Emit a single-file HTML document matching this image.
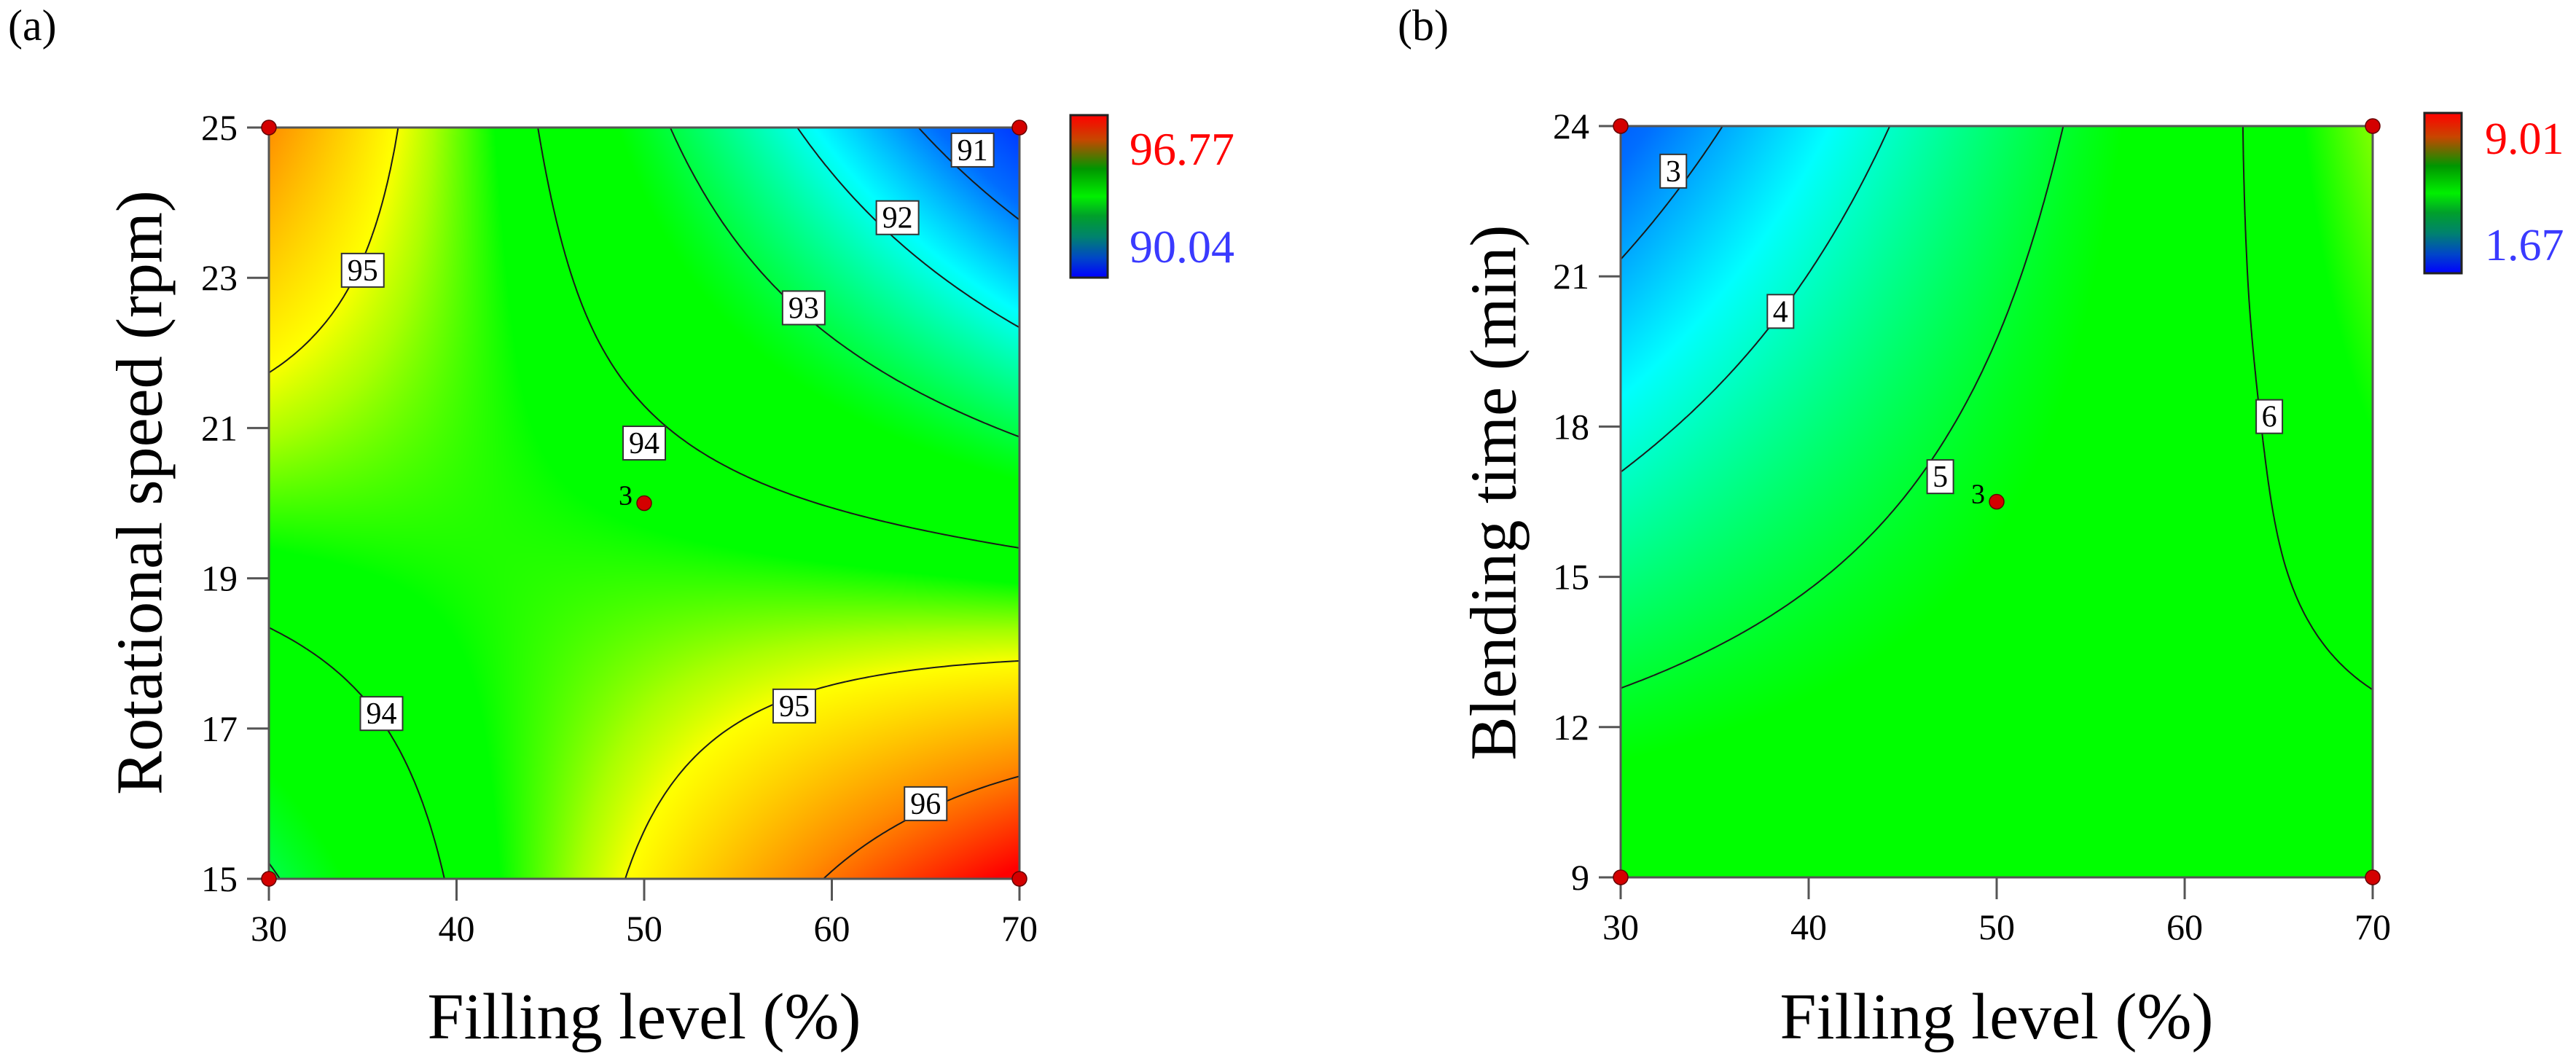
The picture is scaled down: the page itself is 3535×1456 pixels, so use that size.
<!DOCTYPE html>
<html>
<head>
<meta charset="utf-8">
<style>
  html,body{margin:0;padding:0;background:#fff;}
  body{width:3535px;height:1456px;position:relative;overflow:hidden;font-family:"Liberation Serif","Times New Roman",serif;}
  canvas{position:absolute;}
  #overlay{position:absolute;left:0;top:0;font-family:"Liberation Serif","Times New Roman",serif;}
  #overlay text{font-family:"Liberation Serif","Times New Roman",serif;}
</style>
</head>
<body>
<canvas id="heatA"></canvas>
<canvas id="heatB"></canvas>
<svg id="overlay" width="3535" height="1456" xmlns="http://www.w3.org/2000/svg" font-family="Liberation Serif, serif">
  <defs>
    <linearGradient id="cbGrad" x1="0" y1="1" x2="0" y2="0">
      <stop offset="0" stop-color="#0000ff"/>
      <stop offset="0.12" stop-color="#0046c8"/>
      <stop offset="0.25" stop-color="#00826e"/>
      <stop offset="0.38" stop-color="#00a02a"/>
      <stop offset="0.5" stop-color="#00f000"/>
      <stop offset="0.67" stop-color="#009600"/>
      <stop offset="0.85" stop-color="#c84600"/>
      <stop offset="1" stop-color="#ff0000"/>
    </linearGradient>
  </defs>
  <text x="11" y="55" font-size="60">(a)</text>
  <text x="1918" y="55" font-size="60">(b)</text>

  <rect x="1469" y="158" width="51" height="223" fill="url(#cbGrad)" stroke="#222" stroke-width="3"/>
  <text x="1550" y="226" font-size="64" fill="#ff0000">96.77</text>
  <text x="1550" y="360" font-size="64" fill="#3a3aff">90.04</text>

  <rect x="3327" y="155" width="51" height="220" fill="url(#cbGrad)" stroke="#222" stroke-width="3"/>
  <text x="3410" y="211" font-size="62" fill="#ff0000">9.01</text>
  <text x="3410" y="357" font-size="62" fill="#3a3aff">1.67</text>

  <text x="192" y="676" font-size="90" text-anchor="middle" dominant-baseline="central" transform="rotate(-90 192 676)">Rotational speed (rpm)</text>
  <text x="884" y="1425" font-size="90" text-anchor="middle">Filling level (%)</text>
  <text x="2050" y="676" font-size="90" text-anchor="middle" dominant-baseline="central" transform="rotate(-90 2050 676)">Blending time (min)</text>
  <text x="2740" y="1425" font-size="90" text-anchor="middle">Filling level (%)</text>

  <g id="plotA"></g>
  <g id="plotB"></g>
</svg>
<script>
// ---------- Data: panel (a) ----------
const xTicksA = [30, 40, 50, 60, 70];
const yTicksA = [15, 17, 19, 21, 23, 25];
// response values at (xTicksA[i], yTicksA[j]); rows = y from 15 to 25
const gridA = [
  [92.93, 94.07, 95.10, 96.04, 96.87],
  [93.58, 94.23, 94.78, 95.24, 95.59],
  [94.20, 94.37, 94.44, 94.40, 94.27],
  [94.79, 94.47, 94.06, 93.54, 92.92],
  [95.35, 94.55, 93.64, 92.64, 91.54],
  [95.87, 94.59, 93.20, 91.72, 90.13]
];
const rangeA = [90.04, 96.77];
const levelsA = [91, 92, 93, 94, 95, 96];
const labelXA = [67.5, 63.5, 58.5, 50, 35, 36, 58, 65];
const labelYA = [24.7, 23.8, 22.6, 20.8, 23.1, 17.2, 17.3, 16.0];
const labelTextA = ["91", "92", "93", "94", "95", "94", "95", "96"];
const pointXA = [30, 70, 30, 70, 50];
const pointYA = [25, 25, 15, 15, 20];

// ---------- Data: panel (b) ----------
const xTicksB = [30, 40, 50, 60, 70];
const yTicksB = [9, 12, 15, 18, 21, 24];
const gridB = [
  [5.86, 5.90, 5.89, 5.84, 5.75],
  [5.18, 5.43, 5.65, 5.82, 5.95],
  [4.48, 4.96, 5.40, 5.80, 6.15],
  [3.79, 4.49, 5.15, 5.76, 6.34],
  [3.08, 4.01, 4.89, 5.73, 6.52],
  [2.37, 3.52, 4.62, 5.68, 6.70]
];
const rangeB = [1.67, 9.01];
const levelsB = [3, 4, 5, 6];
const labelXB = [32.8, 38.5, 47, 64.5];
const labelYB = [23.1, 20.3, 17.0, 18.2];
const labelTextB = ["3", "4", "5", "6"];
const pointXB = [30, 70, 30, 70, 50];
const pointYB = [24, 24, 9, 9, 16.5];

// colormap stops (t, r, g, b)
const cmapT = [0, 0.12, 0.27, 0.47, 0.5, 0.635, 0.70, 0.74, 0.87, 1];
const cmapR = [0, 0, 0, 0, 0, 0, 170, 255, 255, 255];
const cmapG = [50, 110, 255, 255, 255, 255, 255, 255, 140, 0];
const cmapB = [255, 255, 255, 30, 0, 0, 0, 0, 0, 0];

const SVGNS = "http://www.w3.org/2000/svg";

function colorFor(t){
  if (t <= 0) return [cmapR[0], cmapG[0], cmapB[0]];
  if (t >= 1) { const n = cmapT.length - 1; return [cmapR[n], cmapG[n], cmapB[n]]; }
  for (let k = 0; k < cmapT.length - 1; k++) {
    if (t >= cmapT[k] && t <= cmapT[k+1]) {
      const f = (t - cmapT[k]) / (cmapT[k+1] - cmapT[k]);
      return [cmapR[k] + f*(cmapR[k+1]-cmapR[k]), cmapG[k] + f*(cmapG[k+1]-cmapG[k]), cmapB[k] + f*(cmapB[k+1]-cmapB[k])];
    }
  }
  return [0,255,0];
}

function makeInterp(grid){
  const ny = grid.length, nx = grid[0].length;
  function g(i, j){
    if (i < 0) return 3*g(0,j) - 3*g(1,j) + g(2,j);
    if (i > nx-1) return 3*g(nx-1,j) - 3*g(nx-2,j) + g(nx-3,j);
    if (j < 0) return 3*g(i,0) - 3*g(i,1) + g(i,2);
    if (j > ny-1) return 3*g(i,ny-1) - 3*g(i,ny-2) + g(i,ny-3);
    return grid[j][i];
  }
  function cr(p0,p1,p2,p3,t){
    return 0.5*((2*p1) + (-p0+p2)*t + (2*p0-5*p1+4*p2-p3)*t*t + (-p0+3*p1-3*p2+p3)*t*t*t);
  }
  return function(u, v){
    let i = Math.min(Math.floor(u), nx-2), j = Math.min(Math.floor(v), ny-2);
    const tu = u - i, tv = v - j;
    const rows = [];
    for (let dj = -1; dj <= 2; dj++) {
      rows.push(cr(g(i-1,j+dj), g(i,j+dj), g(i+1,j+dj), g(i+2,j+dj), tu));
    }
    return cr(rows[0], rows[1], rows[2], rows[3], tv);
  };
}

function buildPanel(cfg){
  const {canvasId, groupId, L, T, W, H, xTicks, yTicks, grid, range, levels, lx, ly, lt, px, py, tag} = cfg;
  const xmin = xTicks[0], xmax = xTicks[xTicks.length-1];
  const ymin = yTicks[0], ymax = yTicks[yTicks.length-1];
  const sx = x => L + (x - xmin) / (xmax - xmin) * W;
  const sy = y => T + H - (y - ymin) / (ymax - ymin) * H;
  const f = makeInterp(grid);
  const nx = xTicks.length - 1, ny = yTicks.length - 1;

  const cv = document.getElementById(canvasId);
  cv.width = W; cv.height = H;
  cv.style.left = L + "px"; cv.style.top = T + "px";
  const ctx = cv.getContext("2d");
  const img = ctx.createImageData(W, H);
  for (let r = 0; r < H; r++) {
    const v = (H - 1 - r) / (H - 1) * ny;
    for (let c = 0; c < W; c++) {
      const u = c / (W - 1) * nx;
      const val = f(u, v);
      const col = colorFor((val - range[0]) / (range[1] - range[0]));
      const o = (r*W + c) * 4;
      img.data[o] = col[0]; img.data[o+1] = col[1]; img.data[o+2] = col[2]; img.data[o+3] = 255;
    }
  }
  ctx.putImageData(img, 0, 0);

  const grp = document.getElementById(groupId);

  const N = 160;
  const vals = [];
  for (let j = 0; j <= N; j++) {
    const row = [];
    for (let i = 0; i <= N; i++) row.push(f(i/N*nx, j/N*ny));
    vals.push(row);
  }
  const X = i => L + i/N*W;
  const Y = j => T + H - j/N*H;
  levels.forEach((lev) => {
    let d = "";
    for (let j = 0; j < N; j++) for (let i = 0; i < N; i++) {
      const a = vals[j][i], b = vals[j][i+1], c = vals[j+1][i+1], e = vals[j+1][i];
      const pts = [];
      const edge = (v1, v2, x1, y1, x2, y2) => {
        if ((v1 < lev) !== (v2 < lev)) {
          const t = (lev - v1) / (v2 - v1);
          pts.push([x1 + t*(x2-x1), y1 + t*(y2-y1)]);
        }
      };
      edge(a, b, X(i), Y(j), X(i+1), Y(j));
      edge(b, c, X(i+1), Y(j), X(i+1), Y(j+1));
      edge(c, e, X(i+1), Y(j+1), X(i), Y(j+1));
      edge(e, a, X(i), Y(j+1), X(i), Y(j));
      for (let k = 0; k + 1 < pts.length; k += 2) {
        d += "M" + pts[k][0].toFixed(1) + " " + pts[k][1].toFixed(1) + "L" + pts[k+1][0].toFixed(1) + " " + pts[k+1][1].toFixed(1);
      }
    }
    const p = document.createElementNS(SVGNS, "path");
    p.setAttribute("d", d);
    p.setAttribute("fill", "none");
    p.setAttribute("stroke", "#1a1a1a");
    p.setAttribute("stroke-width", "2");
    
    
    grp.appendChild(p);
  });

  const fr = document.createElementNS(SVGNS, "rect");
  fr.setAttribute("x", L); fr.setAttribute("y", T); fr.setAttribute("width", W); fr.setAttribute("height", H);
  fr.setAttribute("fill", "none"); fr.setAttribute("stroke", "#555"); fr.setAttribute("stroke-width", "3");
  
  
  grp.appendChild(fr);

  xTicks.forEach(t => {
    const ln = document.createElementNS(SVGNS, "line");
    ln.setAttribute("x1", sx(t)); ln.setAttribute("x2", sx(t));
    ln.setAttribute("y1", T + H); ln.setAttribute("y2", T + H + 30);
    ln.setAttribute("stroke", "#555"); ln.setAttribute("stroke-width", "3");
    
    
    grp.appendChild(ln);
    const tx = document.createElementNS(SVGNS, "text");
    tx.setAttribute("x", sx(t)); tx.setAttribute("y", T + H + 85);
    tx.setAttribute("font-size", "50"); tx.setAttribute("text-anchor", "middle");
    tx.textContent = t;
    
    
    grp.appendChild(tx);
  });
  yTicks.forEach(t => {
    const ln = document.createElementNS(SVGNS, "line");
    ln.setAttribute("x1", L - 30); ln.setAttribute("x2", L);
    ln.setAttribute("y1", sy(t)); ln.setAttribute("y2", sy(t));
    ln.setAttribute("stroke", "#555"); ln.setAttribute("stroke-width", "3");
    
    
    grp.appendChild(ln);
    const tx = document.createElementNS(SVGNS, "text");
    tx.setAttribute("x", L - 43); tx.setAttribute("y", sy(t) + 17);
    tx.setAttribute("font-size", "50"); tx.setAttribute("text-anchor", "end");
    tx.textContent = t;
    
    
    grp.appendChild(tx);
  });

  lt.forEach((s, k) => {
    const cx = sx(lx[k]), cy = sy(ly[k]);
    const w = s.length * 22 + 14, h = 46;
    const r = document.createElementNS(SVGNS, "rect");
    r.setAttribute("x", cx - w/2); r.setAttribute("y", cy - h/2);
    r.setAttribute("width", w); r.setAttribute("height", h);
    r.setAttribute("fill", "#fff"); r.setAttribute("stroke", "#333"); r.setAttribute("stroke-width", "2");
    
    
    grp.appendChild(r);
    const tx = document.createElementNS(SVGNS, "text");
    tx.setAttribute("x", cx); tx.setAttribute("y", cy + 14);
    tx.setAttribute("font-size", "42"); tx.setAttribute("text-anchor", "middle");
    tx.textContent = s;
    
    
    grp.appendChild(tx);
  });

  px.forEach((x, k) => {
    const c = document.createElementNS(SVGNS, "circle");
    c.setAttribute("cx", sx(x)); c.setAttribute("cy", sy(py[k])); c.setAttribute("r", "10");
    c.setAttribute("fill", "#d40000"); c.setAttribute("stroke", "#600"); c.setAttribute("stroke-width", "1.5");
    
    
    grp.appendChild(c);
    if (k === px.length - 1) {
      const tx = document.createElementNS(SVGNS, "text");
      tx.setAttribute("x", sx(x) - 16); tx.setAttribute("y", sy(py[k]) + 2);
      tx.setAttribute("font-size", "38"); tx.setAttribute("text-anchor", "end");
      tx.textContent = "3";
      
      
      grp.appendChild(tx);
    }
  });
}

buildPanel({canvasId:"heatA", groupId:"plotA", L:369, T:175, W:1030, H:1031,
  xTicks:xTicksA, yTicks:yTicksA, grid:gridA, range:rangeA, levels:levelsA,
  lx:labelXA, ly:labelYA, lt:labelTextA, px:pointXA, py:pointYA, tag:"a"});
buildPanel({canvasId:"heatB", groupId:"plotB", L:2224, T:173, W:1032, H:1031,
  xTicks:xTicksB, yTicks:yTicksB, grid:gridB, range:rangeB, levels:levelsB,
  lx:labelXB, ly:labelYB, lt:labelTextB, px:pointXB, py:pointYB, tag:"b"});
</script>
</body>
</html>
